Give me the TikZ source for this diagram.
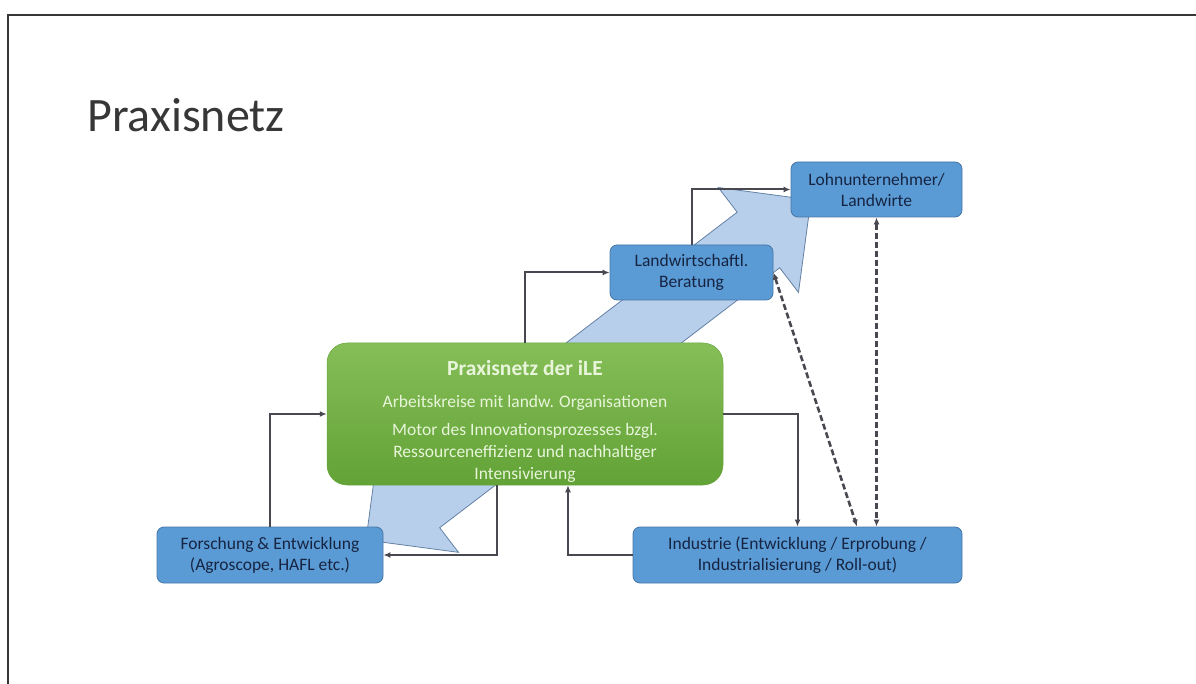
\documentclass[tikz,border=0pt]{standalone}
\usepackage{fontspec}
\usepackage{tikz}
\usetikzlibrary{arrows.meta}
\usetikzlibrary{positioning}
\setmainfont{Carlito}
\definecolor{boxblue}{RGB}{91,155,213}
\definecolor{boxedge}{RGB}{70,118,165}
\definecolor{boxtext}{RGB}{22,36,66}
\definecolor{flowfill}{RGB}{183,207,235}
\definecolor{flowedge}{RGB}{100,128,165}
\definecolor{linkgray}{RGB}{72,72,80}
\definecolor{titlegray}{RGB}{55,55,55}
\definecolor{greentext}{RGB}{232,245,218}
\tikzset{bluebox/.style = {draw = boxedge, line width = 0.8pt, fill = boxblue,
                           rounded corners = 7pt, align = center, text = boxtext,
                           font = \fontsize{17.5}{21}\selectfont, inner sep = 0pt},
         greenbox/.style = {rounded corners = 20pt, top color = {rgb,255:red,134;green,190;blue,88},
                            bottom color = {rgb,255:red,98;green,162;blue,54},
                            draw = {rgb,255:red,104;green,165;blue,62}, line width = 0.5pt,
                            minimum width = 396pt, minimum height = 142pt, inner sep = 0pt},
         link/.style = {draw = linkgray, line width = 2pt, -{Latex[length = 7pt, width = 6pt]}},
         dashlink/.style = {draw = linkgray, line width = 2.6pt, dash pattern = on 6pt off 3pt,
                            {Latex[length = 7pt, width = 6pt]}-{Latex[length = 7pt, width = 6pt]}}}

\begin{document}
\begin{tikzpicture}[x = 1pt, y = -1pt]
      \useasboundingbox (0, 0) rectangle (1196, 684);
      \draw [line width = 2pt, titlegray] (7.5, 684) -- (7.5, 15) -- (1196, 15);
      \node [anchor = base west, text = titlegray, font = \fontsize{48}{56}\selectfont, inner sep = 0pt]
            (title) at (87, 132) {Praxisnetz};

      \begin{scope}[shift = {(366, 540)}, rotate = 37.4]
        \filldraw [fill = flowfill, draw = flowedge, line width = 0.8pt]
              (0, 0) -- (66, 66) -- (66, 35) -- (494, 35) -- (494, 66) -- (560, 0)
              -- (494, -66) -- (494, -35) -- (66, -35) -- (66, -66) -- cycle;
      \end{scope}

      \node [greenbox] (praxis) at (525, 414) {};
      \node [align = center, text = greentext, font = \fontsize{17.5}{22}\selectfont]
            (praxistext) at (525, 421)
            {{\fontsize{21.5}{22}\selectfont\bfseries Praxisnetz der iLE}\\[10pt]
             Arbeitskreise mit landw. Organisationen\\[6pt]
             Motor des Innovationsprozesses bzgl.\\
             Ressourceneffizienz und nachhaltiger\\
             Intensivierung};
      \node [bluebox, minimum width = 171pt, minimum height = 55pt] (lohn) at (876.5, 189.5)
            {Lohnunternehmer/\\Landwirte};
      \node [bluebox, minimum width = 163pt, minimum height = 55pt] (berat) at (691.5, 272.5)
            {Landwirtschaftl.\\Beratung};
      \node [bluebox, minimum width = 226pt, minimum height = 56pt] (forsch) at (270, 555)
            {Forschung \& Entwicklung\\(Agroscope, HAFL etc.)};
      \node [bluebox, minimum width = 329pt, minimum height = 56pt] (indus) at (797.5, 555)
            {Industrie (Entwicklung / Erprobung /\\Industrialisierung / Roll-out)};

      \draw [link] (praxis.north) |- (berat.west);
      \draw [link] (berat.north) |- (lohn.west);
      \draw [link] (forsch.north) |- (praxis.west);
      \draw [link] ([xshift = -28pt]praxis.south) |- (forsch.east);
      \draw [link] (praxis.east) -| (indus.north);
      \draw [link] (indus.west) -| ([xshift = 43pt]praxis.south);
      \draw [dashlink] (berat.east) -- ([xshift = 59.5pt]indus.north);
      \draw [dashlink] (lohn.south) -- (lohn.south |- indus.north);
    \end{tikzpicture}
\end{document}
